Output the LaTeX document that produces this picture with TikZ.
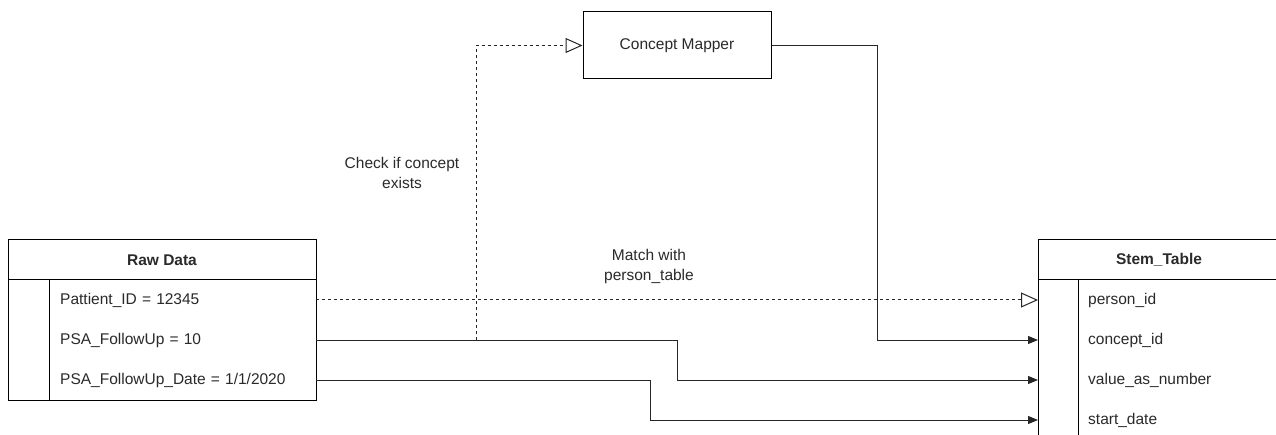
\documentclass[tikz,border=0pt]{standalone}
\usepackage{fontspec}
\setmainfont{Liberation Sans}
\usetikzlibrary{arrows.meta}
\definecolor{txt}{HTML}{2A2A2A}
\begin{document}
\begin{tikzpicture}[x=1pt,y=-1pt,
  every node/.style={font=\fontsize{15.5}{17}\selectfont, text=txt},
  box/.style={draw, line width=1pt, inner sep=0pt},
  rowbox/.style={inner sep=0pt, minimum height=40pt, anchor=north west, text width=#1, align=left},
  hdr/.style={inner sep=0pt, font=\fontsize{15.5}{17}\selectfont\bfseries},
  conn/.style={line width=1pt, draw=black!85},
  filled/.style={-{Triangle[length=10pt,width=8pt]}},
  hollow/.style={-{Triangle[open,length=17pt,width=15pt,fill=white]}},
  dsh/.style={dash pattern=on 3pt off 3pt},
  lbl/.style={align=center, inner sep=0pt, font=\fontsize{15.5}{20}\selectfont}
]
\useasboundingbox (0,0) rectangle (1276,435);
\clip (0,0) rectangle (1276,435);
\fill[white] (0,0) rectangle (1276,435);

% Raw Data table
\node[box, minimum width=308pt, minimum height=161pt, anchor=north west] (raw) at (8,239) {};
\draw[line width=1pt] (8,280) -- (316,280);
\draw[line width=1pt] (49,280) -- (49,400);
\node[hdr] (rawh) at (162,260) {Raw Data};
\node[rowbox=255pt] (r1) at (60,280) {Pattient\_ID = 12345};
\node[rowbox=255pt] (r2) at (60,320) {PSA\_FollowUp = 10};
\node[rowbox=255pt] (r3) at (60,360) {PSA\_FollowUp\_Date = 1/1/2020};

% Stem_Table
\node[box, minimum width=262pt, minimum height=221pt, anchor=north west] (stem) at (1038,239) {};
\draw[line width=1pt] (1038,280) -- (1300,280);
\draw[line width=1pt] (1078,280) -- (1078,460);
\node[hdr] (stemh) at (1159,260) {Stem\_Table};
\node[rowbox=180pt] (s1) at (1088,280) {person\_id};
\node[rowbox=180pt] (s2) at (1088,320) {concept\_id};
\node[rowbox=180pt] (s3) at (1088,360) {value\_as\_number};
\node[rowbox=180pt] (s4) at (1088,400) {start\_date};
\coordinate (t1) at (1038,300);
\coordinate (t2) at (1038,340);
\coordinate (t3) at (1038,380);
\coordinate (t4) at (1038,420);
\coordinate (e1) at (316,300);
\coordinate (e2) at (316,340);
\coordinate (e3) at (316,380);

% Concept Mapper
\node[box, minimum width=188pt, minimum height=67pt] (cm) at (677,45.5) {Concept Mapper};

% connectors
\coordinate (j) at (476,340);
\draw[conn, dsh, hollow] (j) |- (cm.west);
\draw[conn, dsh, hollow] (e1) -- (t1);
\draw[conn, filled] (cm.east) -| (877,340) -- (t2);
\draw[conn, filled] (e2) -| (677,380) -- (t3);
\draw[conn, filled] (e3) -| (650,420) -- (t4);

% labels
\node[lbl] (l1) at (402,173) {Check if concept\\exists};
\node[lbl] (l2) at (649,266) {Match with\\person\_table};
\end{tikzpicture}
\end{document}
